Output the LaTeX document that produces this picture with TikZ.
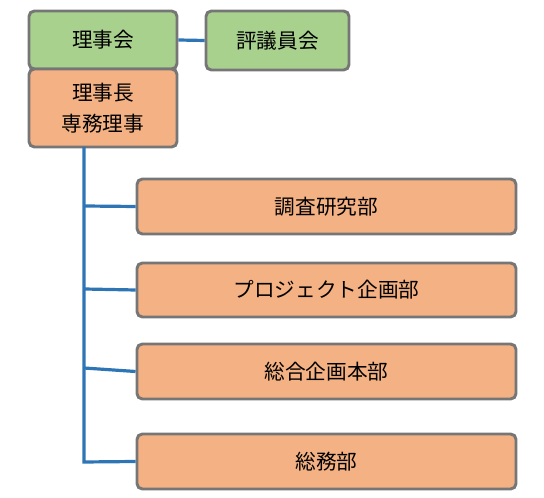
\documentclass[tikz,border=0pt]{standalone}
\usepackage{fontspec}
\setmainfont{Noto Sans CJK JP}
\begin{document}
\begin{tikzpicture}[x=0.75pt,y=-0.75pt,
  box/.style={draw=boxgray,line width=2.2pt,rounded corners=4pt,inner sep=0pt,
    font=\fontsize{15.5pt}{23pt}\selectfont,align=center},
  green/.style={box,fill=boxgreen},
  orange/.style={box,fill=boxorange},
  link/.style={draw=linkblue,line width=2.4pt}]
\definecolor{boxgray}{HTML}{767676}
\definecolor{boxgreen}{HTML}{A9D18E}
\definecolor{boxorange}{HTML}{F4B183}
\definecolor{linkblue}{HTML}{2E75B6}
\useasboundingbox (0,0) rectangle (544,498);
\coordinate (v) at (84,147);
\coordinate (b1) at (84,206);
\coordinate (b2) at (84,289);
\coordinate (b3) at (84,368);
\coordinate (b4) at (84,462);
\node[green,minimum width=148*0.75pt,minimum height=58*0.75pt] (rijikai) at (103,40) {理事会};
\node[green,minimum width=143*0.75pt,minimum height=59*0.75pt] (hyogi) at (277.5,40.5) {評議員会};
\node[orange,minimum width=148*0.75pt,minimum height=78*0.75pt] (rijicho) at (103,108) {理事長\\専務理事};
\node[orange,minimum width=379*0.75pt,minimum height=55*0.75pt] (d1) at (326.5,206.5) {調査研究部};
\node[orange,minimum width=379*0.75pt,minimum height=54*0.75pt] (d2) at (326.5,290) {プロジェクト企画部};
\node[orange,minimum width=379*0.75pt,minimum height=55*0.75pt] (d3) at (326.5,371.5) {総合企画本部};
\node[orange,minimum width=379*0.75pt,minimum height=55*0.75pt] (d4) at (326.5,461.5) {総務部};
\draw[link] (rijikai.east) -- (hyogi.west);
\draw[link] (v) -- (b4) -- (d4.west);
\draw[link] (b1) -- (d1.west);
\draw[link] (b2) -- (d2.west);
\draw[link] (b3) -- (d3.west);
\end{tikzpicture}
\end{document}
